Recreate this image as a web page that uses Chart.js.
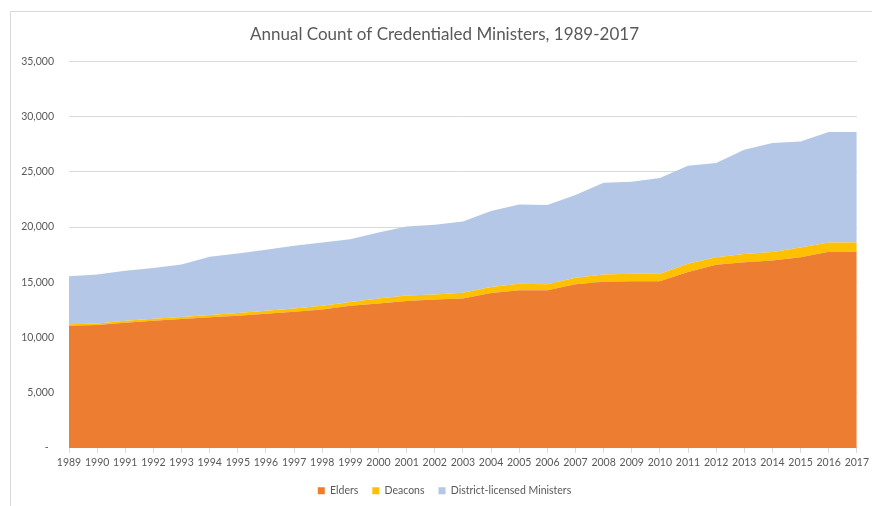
<!DOCTYPE html>
<html>
<head>
<meta charset="utf-8">
<script src="https://cdn.jsdelivr.net/npm/chart.js@4"></script>
<style>
  html, body { margin: 0; padding: 0; background: #fff; overflow: hidden; }
  #wrap { position: absolute; left: 0; top: 0; width: 872px; height: 506px; }
  #frame { position: absolute; left: 10px; top: 11px; width: 900px; height: 520px;
           border-left: 1px solid #d9d9d9; border-top: 1px solid #d9d9d9; }
  canvas { position: absolute; left: 0; top: 0; }
</style>
</head>
<body>
<div id="wrap">
  <div id="frame"></div>
  <canvas id="c" width="872" height="506"></canvas>
</div>
<script>
const years = ['1989','1990','1991','1992','1993','1994','1995','1996','1997','1998','1999','2000','2001','2002','2003','2004','2005','2006','2007','2008','2009','2010','2011','2012','2013','2014','2015','2016','2017'];
const elders = [11070,11130,11340,11520,11670,11820,11970,12150,12330,12540,12870,13080,13310,13440,13520,14030,14270,14270,14810,15050,15080,15080,15920,16580,16820,16970,17260,17770,17770];
const deacons = [120,140,170,180,190,210,250,270,300,330,350,440,500,460,520,540,600,550,600,650,690,700,750,690,750,760,880,820,820];
const districtLicensed = [4360,4430,4540,4600,4740,5270,5380,5530,5670,5730,5680,5980,6240,6300,6460,6880,7180,7180,7490,8300,8330,8670,8880,8530,9430,9870,9610,10010,10010];
const yTicks = [0,5000,10000,15000,20000,25000,30000,35000];

const txt = '#595959';
const font = 'Lato, "Open Sans", sans-serif';

new Chart(document.getElementById('c'), {
  type: 'line',
  data: {
    labels: years,
    datasets: [
      { label: 'Elders', data: elders, backgroundColor: '#ED7D31', borderColor: '#ED7D31', fill: 'origin' },
      { label: 'Deacons', data: deacons, backgroundColor: '#FFC000', borderColor: '#FFC000', fill: '-1' },
      { label: 'District-licensed Ministers', data: districtLicensed, backgroundColor: '#B4C7E7', borderColor: '#B4C7E7', fill: '-1' }
    ]
  },
  options: {
    responsive: false,
    animation: false,
    devicePixelRatio: 1,
    elements: { line: { tension: 0, borderWidth: 0 }, point: { radius: 0, hoverRadius: 0 } },
    layout: { padding: { left: 20, right: 3, top: 0, bottom: 0 } },
    plugins: {
      title: {
        display: true,
        text: 'Annual Count of Credentialed Ministers, 1989-2017',
        color: txt,
        font: { family: font, size: 17, weight: 'normal' },
        padding: { top: 24, bottom: 17 }
      },
      legend: {
        position: 'bottom',
        labels: { color: txt, font: { family: font, size: 10.5 }, boxWidth: 7, boxHeight: 7, padding: 14 }
      },
      tooltip: { enabled: false }
    },
    scales: {
      x: {
        offset: false,
        grid: { display: true, drawOnChartArea: false, drawTicks: true, tickLength: 5, color: '#d9d9d9' },
        border: { display: true, color: '#d9d9d9' },
        ticks: { color: txt, font: { family: font, size: 10.5 }, maxRotation: 0, autoSkip: false, padding: 3 }
      },
      y: {
        stacked: true,
        min: 0,
        max: 35000,
        afterBuildTicks: (s) => { s.ticks = yTicks.map(v => ({ value: v })); },
        afterFit: (s) => { s.width = 49; },
        grid: { color: '#d9d9d9', drawTicks: false },
        border: { display: false },
        ticks: {
          color: txt,
          font: { family: font, size: 10.5 },
          padding: 15,
          callback: (v) => v === 0 ? '-  ' : v.toLocaleString('en-US')
        }
      }
    }
  }
});
</script>
</body>
</html>
